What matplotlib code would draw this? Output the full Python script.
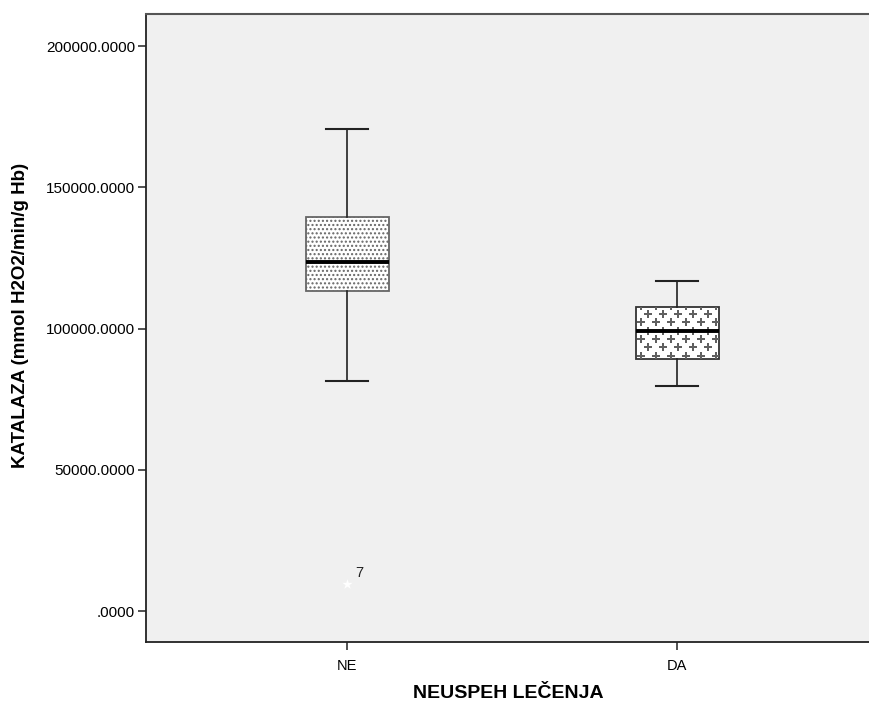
import numpy as np
import matplotlib
matplotlib.use("Agg")
import matplotlib.pyplot as plt
from matplotlib.ticker import FuncFormatter

plt.rcParams['font.family'] = ['Liberation Sans', 'DejaVu Sans']
plt.rcParams['hatch.linewidth'] = 1.0

categories = ["NE", "DA"]
whisker_low = [81400, 79600]
q1 = [113300, 89200]
median = [123500, 99100]
q3 = [139500, 107600]
whisker_high = [170700, 116800]
outlier_vals = [9600]
outlier_cat = [0]
outlier_labels = ["7"]

stats = []
for i, c in enumerate(categories):
    stats.append({"label": c, "whislo": whisker_low[i], "q1": q1[i], "med": median[i],
                  "q3": q3[i], "whishi": whisker_high[i], "fliers": []})

fig = plt.figure(figsize=(8.7, 7.06), dpi=100)
ax = fig.add_axes([146/870, 64/706, 724/870, 628/706])
ax.set_facecolor("#F0F0F0")

pos = [1, 2]
bp = ax.bxp(stats, positions=pos, widths=0.25, patch_artist=True, showfliers=False,
            boxprops=dict(facecolor="white", edgecolor="#333333", linewidth=1.3),
            medianprops=dict(color="black", linewidth=2.8),
            whiskerprops=dict(color="#222222", linewidth=1.2),
            capprops=dict(color="#222222", linewidth=1.5), capwidths=0.127)

# NE: fine dotted fill
bp["boxes"][0].set_hatch("....")
bp["boxes"][0].set_edgecolor("#666666")

# DA: plus pattern, clipped to the box
box = bp["boxes"][1]
ext = box.get_path().get_extents()
x0, x1 = ext.x0, ext.x1
y0, y1 = ext.y0, ext.y1
dx = 15 / 330
dy = 8.3 * 50000 / 141.25
px, py = [], []
row = 0
yy = y0 + dy * 0.4
while yy < y1 + dy:
    off = (dx / 2) if row % 2 else 0
    xx = x0 + dx * 0.3 + off
    while xx < x1 + dx:
        px.append(xx)
        py.append(yy)
        xx += dx
    yy += dy
    row += 1
sc = ax.scatter(px, py, marker="P", s=40, color="#606060", linewidths=0, zorder=2.5)
sc.set_clip_path(box)
box.set_zorder(2)
bp["medians"][1].set_zorder(3)
bp["medians"][0].set_zorder(3)

ax.scatter([pos[i] for i in outlier_cat], outlier_vals, marker="*", s=60,
           color="white", linewidths=0, zorder=4)
for i, v, t in zip(outlier_cat, outlier_vals, outlier_labels):
    ax.annotate(t, (pos[i], v), xytext=(6, 5), textcoords="offset points",
                fontsize=10.5, color="#222222")

ax.set_xlim(0.39, 2.584)
ax.set_ylim(-10970, 211330)
ax.set_yticks([0, 50000, 100000, 150000, 200000])
ax.yaxis.set_major_formatter(FuncFormatter(lambda v, p: ".0000" if v == 0 else "%.4f" % v))
ax.set_xticks(pos)
ax.set_xticklabels(categories)
ax.tick_params(axis="y", labelsize=11, length=6, width=1.2, color="#333333", pad=2)
ax.tick_params(axis="x", labelsize=10.5, length=6, width=1.2, color="#333333", pad=6)

ax.spines["right"].set_visible(False)
for s in ["left", "bottom"]:
    ax.spines[s].set_color("#222222")
    ax.spines[s].set_linewidth(1.3)
ax.spines["top"].set_color("#555555")
ax.spines["top"].set_linewidth(1.5)

ax.set_xlabel("NEUSPEH LEČENJA", fontsize=14, fontweight="bold", labelpad=9)
ax.set_ylabel("KATALAZA (mmol H2O2/min/g Hb)", fontsize=13.5, fontweight="bold")
ax.yaxis.set_label_coords(-0.162, 0.52)

fig.savefig("out.png", dpi=100)
